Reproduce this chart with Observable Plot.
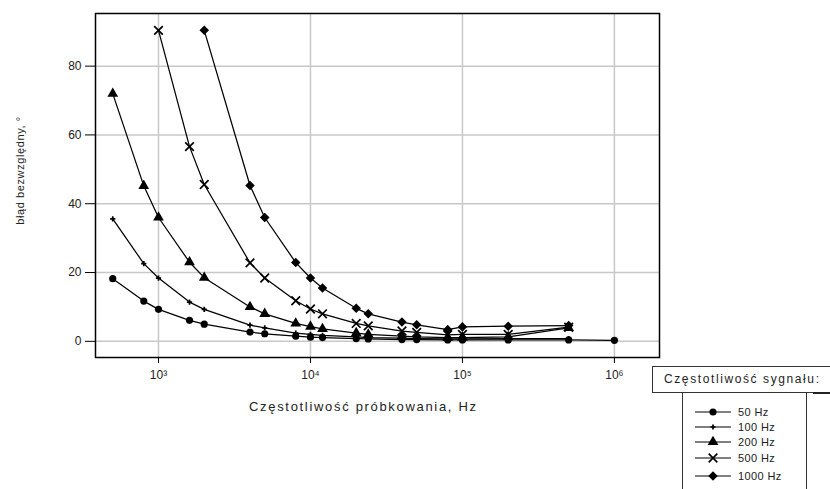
<!DOCTYPE html>
<html>
<head>
<meta charset="utf-8">
<script src="https://cdn.jsdelivr.net/npm/d3@7"></script>
<script src="https://cdn.jsdelivr.net/npm/@observablehq/plot@0.6"></script>
<style>
  html, body { margin: 0; padding: 0; background: white; overflow: hidden; }
  body { width: 830px; height: 489px; position: relative; font-family: "Liberation Sans", Arial, sans-serif; color: #222; }
  #chart { position: absolute; left: 0; top: 0; }
  .lg { position: absolute; box-sizing: border-box; }
</style>
</head>
<body>
<div id="chart"></div>
<div id="legend"></div>
<script>
// Sampling frequencies (Hz)
const fs = [500, 800, 1000, 1600, 2000, 4000, 5000, 8000, 10000, 12000, 20000, 24000, 40000, 50000, 80000, 100000, 200000, 500000, 1000000];
// Series names
const seriesNames = ["50 Hz", "100 Hz", "200 Hz", "500 Hz", "1000 Hz"];
// Absolute error (degrees) per series, aligned with fs (null = no measurement)
const err50   = [18.2, 11.7, 9.3, 6.1, 5.0, 2.7, 2.2, 1.5, 1.2, 1.1, 0.8, 0.7, 0.5, 0.5, 0.4, 0.4, 0.4, 0.4, 0.3];
const err100  = [35.6, 22.6, 18.4, 11.4, 9.3, 4.7, 3.9, 2.4, 2.0, 1.7, 1.3, 1.1, 0.9, 0.8, 0.7, 0.7, 0.8, 0.8, null];
const err200  = [72.0, 45.2, 36.0, 23.0, 18.5, 10.0, 8.0, 5.2, 4.3, 3.6, 2.4, 2.0, 1.5, 1.3, 1.1, 1.1, 1.3, 3.9, null];
const err500  = [null, null, 90.4, 56.6, 45.6, 22.8, 18.4, 11.8, 9.4, 8.0, 5.2, 4.5, 3.0, 2.6, 1.9, 2.0, 2.0, 4.1, null];
const err1000 = [null, null, null, null, 90.4, 45.3, 36.0, 22.9, 18.4, 15.5, 9.6, 8.0, 5.6, 4.8, 3.4, 4.2, 4.4, 4.6, null];
// Axis ticks
const xTicks = [1e3, 1e4, 1e5, 1e6];
const xTickLabels = ["10³", "10⁴", "10⁵", "10⁶"];
const yTicks = [0, 20, 40, 60, 80];
const xTitle = "Częstotliwość próbkowania, Hz";
const yTitle = "błąd bezwzględny, °";
const legendTitle = "Częstotliwość sygnału:";

const seriesValues = [err50, err100, err200, err500, err1000];
const data = seriesNames.flatMap((s, i) =>
  fs.map((f, j) => ({fs: f, err: seriesValues[i][j], series: s})).filter(d => d.err != null)
);

// rotated-square diamond symbol (equal width and height)
const fatDiamond = {
  draw(context, size) {
    const h = Math.sqrt(size / 2);
    context.moveTo(0, -h); context.lineTo(h, 0); context.lineTo(0, h); context.lineTo(-h, 0); context.closePath();
  }
};

const markerStyles = [
  {symbol: d3.symbolCircle, r: 3.6, fill: "black"},
  {symbol: d3.symbolCross, r: 2.2, fill: "black"},
  {symbol: d3.symbolTriangle, r: 4.0, fill: "black"},
  {symbol: d3.symbolTimes, r: 4.0, fill: "none", stroke: "black", strokeWidth: 1.7},
  {symbol: fatDiamond, r: 3.8, fill: "black"}
];

const gridStyle = {stroke: "#c8c8c8", strokeOpacity: 1, strokeWidth: 1.5};

const chart = Plot.plot({
  width: 830,
  height: 489,
  marginLeft: 95,
  marginRight: 171,
  marginTop: 13,
  marginBottom: 132,
  style: {fontFamily: "'Liberation Sans', Arial, sans-serif", fontSize: "12px", color: "#222", background: "white", overflow: "visible"},
  x: {type: "log", domain: [385, 1.98e6]},
  y: {domain: [-4.7, 95.3]},
  marks: [
    Plot.gridX(xTicks, gridStyle),
    Plot.gridY(yTicks, gridStyle),
    Plot.axisX({ticks: xTicks, tickFormat: d => xTickLabels[xTicks.indexOf(d)], tickSize: 6, tickPadding: 7, label: null, fontSize: 12, stroke: "#000"}),
    Plot.axisY({ticks: yTicks, tickSize: 10, tickPadding: 4, label: null, fontSize: 12, stroke: "#000"}),
    Plot.line(data, {x: "fs", y: "err", z: "series", stroke: "black", strokeWidth: 1.25}),
    ...seriesNames.map((s, i) => Plot.dot(data.filter(d => d.series === s), {x: "fs", y: "err", ...markerStyles[i]})),
    Plot.frame({stroke: "black", strokeWidth: 1.5}),
    Plot.text([xTitle], {text: d => d, frameAnchor: "bottom", dx: -15, dy: 49, fontSize: 13, lineAnchor: "middle", textAnchor: "middle", fill: "#222"}),
    Plot.text([yTitle], {text: d => d, frameAnchor: "left", dx: -75, dy: -15, rotate: -90, fontSize: 11, lineAnchor: "middle", textAnchor: "middle", fill: "#222"})
  ]
});
document.getElementById("chart").appendChild(chart);

// stretch titles to match the reference widths
chart.querySelectorAll("text").forEach(t => {
  if (t.textContent === xTitle) { t.setAttribute("textLength", 227); t.setAttribute("lengthAdjust", "spacing"); }
  if (t.textContent === yTitle) { t.style.letterSpacing = "0.6px"; }
});

// Legend (HTML overlay)
const lg = document.getElementById("legend");
const header = document.createElement("div");
header.className = "lg";
Object.assign(header.style, {left: "652px", top: "366px", width: "200px", height: "27px", border: "1px solid #333", fontSize: "12px", lineHeight: "25px", paddingLeft: "11px", letterSpacing: "1.6px", whiteSpace: "nowrap"});
header.textContent = legendTitle;
lg.appendChild(header);

const shadow = document.createElement("div");
shadow.className = "lg";
Object.assign(shadow.style, {left: "813px", top: "392px", width: "20px", height: "2px", background: "#222"});
lg.appendChild(shadow);

const box = document.createElement("div");
box.className = "lg";
Object.assign(box.style, {left: "682px", top: "392px", width: "125px", height: "120px", borderLeft: "1px solid #333", borderRight: "1px solid #333"});
lg.appendChild(box);

const rowY = [412, 427, 442, 458, 476];
seriesNames.forEach((s, i) => {
  const m = markerStyles[i];
  const row = document.createElement("div");
  row.className = "lg";
  Object.assign(row.style, {left: "694px", top: (rowY[i] - 8) + "px", height: "16px", whiteSpace: "nowrap"});
  const path = d3.symbol(m.symbol, Math.PI * m.r * m.r)();
  row.innerHTML = `<svg width="38" height="16" style="position:absolute;left:0;top:0">
    <line x1="1" x2="37" y1="8" y2="8" stroke="black" stroke-width="1.2"/>
    <path d="${path}" transform="translate(19,8)" fill="${m.fill}" stroke="${m.stroke || 'none'}" stroke-width="${m.strokeWidth || 0}"/>
  </svg><span style="position:absolute;left:44px;top:0;font-size:11px;line-height:16px;letter-spacing:0.4px">${s}</span>`;
  lg.appendChild(row);
});
</script>
</body>
</html>
